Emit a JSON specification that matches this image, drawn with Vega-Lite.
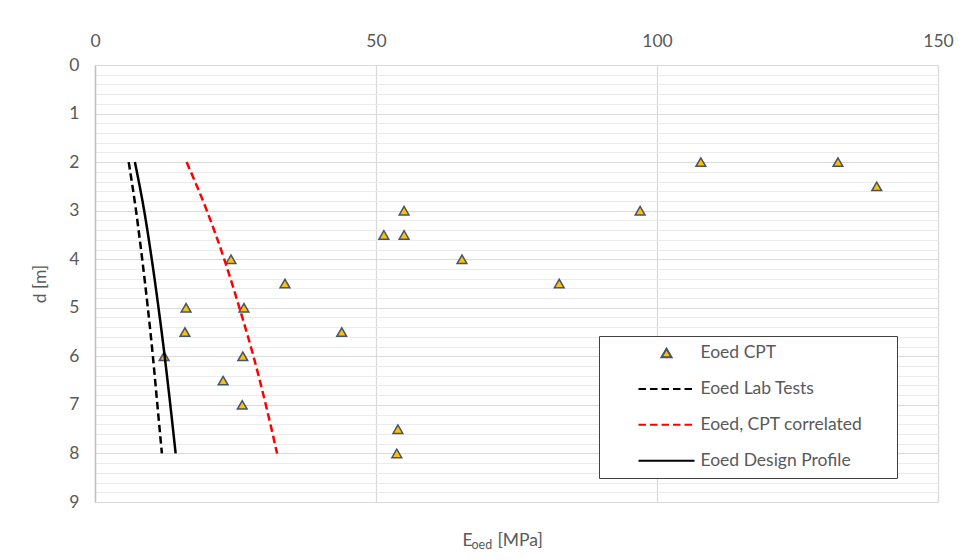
{
  "$schema": "https://vega.github.io/schema/vega-lite/v6.json",
  "width": 843,
  "height": 437,
  "autosize": {"type": "none"},
  "padding": {"left": 95, "top": 65, "right": 38, "bottom": 58},
  "background": "white",
  "datasets": {
    "cpt": [
      {"series": "Eoed CPT", "E": 107.8, "d": 2},
      {"series": "Eoed CPT", "E": 132.2, "d": 2},
      {"series": "Eoed CPT", "E": 139.1, "d": 2.5},
      {"series": "Eoed CPT", "E": 55.0, "d": 3},
      {"series": "Eoed CPT", "E": 97.0, "d": 3},
      {"series": "Eoed CPT", "E": 51.4, "d": 3.5},
      {"series": "Eoed CPT", "E": 55.0, "d": 3.5},
      {"series": "Eoed CPT", "E": 24.2, "d": 4},
      {"series": "Eoed CPT", "E": 65.3, "d": 4},
      {"series": "Eoed CPT", "E": 33.8, "d": 4.5},
      {"series": "Eoed CPT", "E": 82.6, "d": 4.5},
      {"series": "Eoed CPT", "E": 16.2, "d": 5},
      {"series": "Eoed CPT", "E": 26.5, "d": 5},
      {"series": "Eoed CPT", "E": 16.0, "d": 5.5},
      {"series": "Eoed CPT", "E": 43.9, "d": 5.5},
      {"series": "Eoed CPT", "E": 12.3, "d": 6},
      {"series": "Eoed CPT", "E": 26.3, "d": 6},
      {"series": "Eoed CPT", "E": 22.8, "d": 6.5},
      {"series": "Eoed CPT", "E": 26.2, "d": 7},
      {"series": "Eoed CPT", "E": 53.9, "d": 7.5},
      {"series": "Eoed CPT", "E": 53.7, "d": 8}
    ],
    "lines": [
      {"series": "Eoed Lab Tests", "E": 6.0, "d": 2},
      {"series": "Eoed Lab Tests", "E": 7.3, "d": 3},
      {"series": "Eoed Lab Tests", "E": 8.4, "d": 4},
      {"series": "Eoed Lab Tests", "E": 9.4, "d": 5},
      {"series": "Eoed Lab Tests", "E": 10.3, "d": 6},
      {"series": "Eoed Lab Tests", "E": 11.1, "d": 7},
      {"series": "Eoed Lab Tests", "E": 11.9, "d": 8},
      {"series": "Eoed, CPT correlated", "E": 16.3, "d": 2},
      {"series": "Eoed, CPT correlated", "E": 19.9, "d": 3},
      {"series": "Eoed, CPT correlated", "E": 23.0, "d": 4},
      {"series": "Eoed, CPT correlated", "E": 25.7, "d": 5},
      {"series": "Eoed, CPT correlated", "E": 28.2, "d": 6},
      {"series": "Eoed, CPT correlated", "E": 30.4, "d": 7},
      {"series": "Eoed, CPT correlated", "E": 32.4, "d": 8},
      {"series": "Eoed Design Profile", "E": 7.1, "d": 2},
      {"series": "Eoed Design Profile", "E": 8.75, "d": 3},
      {"series": "Eoed Design Profile", "E": 10.1, "d": 4},
      {"series": "Eoed Design Profile", "E": 11.3, "d": 5},
      {"series": "Eoed Design Profile", "E": 12.4, "d": 6},
      {"series": "Eoed Design Profile", "E": 13.4, "d": 7},
      {"series": "Eoed Design Profile", "E": 14.35, "d": 8}
    ]
  },
  "resolve": {"axis": {"x": "independent", "y": "independent"}},
  "layer": [
    {
      "data": {"name": "cpt"},
      "mark": {"type": "point", "filled": true, "opacity": 1, "size": 95, "strokeWidth": 1.5},
      "encoding": {
        "x": {
          "field": "E", "type": "quantitative",
          "scale": {"domain": [0, 150], "nice": false, "zero": true},
          "axis": {
            "orient": "top", "values": [0, 50, 100, 150], "title": null,
            "grid": true, "gridColor": "#D9D9D9", "gridWidth": 1.2,
            "domain": false, "ticks": false, "labelFlush": false,
            "labelPadding": 19, "labelBaseline": "alphabetic"
          }
        },
        "y": {
          "field": "d", "type": "quantitative",
          "scale": {"domain": [0, 9], "nice": false, "reverse": true},
          "axis": {
            "orient": "left", "values": [0, 1, 2, 3, 4, 5, 6, 7, 8, 9],
            "title": "d [m]", "titleX": -55, "titleY": 218.5, "titleAngle": -90,
            "titleAlign": "center", "titleBaseline": "middle",
            "grid": true, "gridColor": "#D9D9D9", "gridWidth": 1.2,
            "domain": true, "domainColor": "#BFBFBF", "domainWidth": 1.5,
            "ticks": false, "labelPadding": 16, "labelFlush": false
          }
        },
        "shape": {
          "field": "series", "type": "nominal",
          "scale": {
            "domain": ["Eoed CPT", "Eoed Lab Tests", "Eoed, CPT correlated", "Eoed Design Profile"],
            "range": ["triangle-up", "M-5.6,0H5.6", "M-5.6,0H5.6", "M-5.6,0H5.6"]
          },
          "legend": {"title": "\u2003"}
        },
        "fill": {
          "field": "series", "type": "nominal",
          "scale": {
            "domain": ["Eoed CPT", "Eoed Lab Tests", "Eoed, CPT correlated", "Eoed Design Profile"],
            "range": ["#FFC000", "#000000", "#FF0000", "#000000"]
          },
          "legend": {"title": "\u2003"}
        },
        "stroke": {
          "field": "series", "type": "nominal",
          "scale": {
            "domain": ["Eoed CPT", "Eoed Lab Tests", "Eoed, CPT correlated", "Eoed Design Profile"],
            "range": ["#44546A", "#000000", "#FF0000", "#000000"]
          },
          "legend": {"title": "\u2003"}
        }
      }
    },
    {
      "data": {"name": "lines"},
      "transform": [{"filter": "datum.series === 'Eoed Lab Tests'"}],
      "mark": {"type": "line", "strokeWidth": 2.5, "interpolate": "monotone"},
      "encoding": {
        "x": {
          "field": "E", "type": "quantitative",
          "axis": {
            "orient": "bottom", "labels": false, "ticks": false, "domain": false, "grid": false,
            "title": "E", "titleX": 367, "titleY": 43, "titleAlign": "left", "titleBaseline": "alphabetic", "titleAnchor": null
          }
        },
        "y": {
          "field": "d", "type": "quantitative",
          "axis": {
            "orient": "left", "title": null, "labels": false, "ticks": false, "domain": false,
            "grid": true, "gridColor": "#EBEBEB", "gridWidth": 1.2,
            "values": [0.2, 0.4, 0.6, 0.8, 1.2, 1.4, 1.6, 1.8, 2.2, 2.4, 2.6, 2.8, 3.2, 3.4, 3.6, 3.8, 4.2, 4.4, 4.6, 4.8, 5.2, 5.4, 5.6, 5.8, 6.2, 6.4, 6.6, 6.8, 7.2, 7.4, 7.6, 7.8, 8.2, 8.4, 8.6, 8.8]
          }
        },
        "order": {"field": "d", "type": "quantitative"},
        "stroke": {"field": "series", "type": "nominal", "legend": {"title": "\u2003"}},
        "strokeDash": {
          "field": "series", "type": "nominal",
          "scale": {
            "domain": ["Eoed CPT", "Eoed Lab Tests", "Eoed, CPT correlated", "Eoed Design Profile"],
            "range": [[1, 0], [7.5, 4], [7.5, 4], [1, 0]]
          },
          "legend": {"title": "\u2003"}
        }
      }
    },
    {
      "data": {"name": "lines"},
      "transform": [{"filter": "datum.series === 'Eoed, CPT correlated'"}],
      "mark": {"type": "line", "strokeWidth": 2.5, "interpolate": "monotone"},
      "encoding": {
        "x": {
          "field": "E", "type": "quantitative",
          "axis": {
            "orient": "bottom", "labels": false, "ticks": false, "domain": false, "grid": false,
            "title": "oed", "titleX": 376, "titleY": 46, "titleAlign": "left", "titleBaseline": "alphabetic", "titleAnchor": null, "titleFontSize": 12.5
          }
        },
        "y": {"field": "d", "type": "quantitative", "axis": null},
        "order": {"field": "d", "type": "quantitative"},
        "stroke": {"field": "series", "type": "nominal", "legend": {"title": "\u2003"}},
        "strokeDash": {"field": "series", "type": "nominal", "legend": {"title": "\u2003"}}
      }
    },
    {
      "data": {"name": "lines"},
      "transform": [{"filter": "datum.series === 'Eoed Design Profile'"}],
      "mark": {"type": "line", "strokeWidth": 2.5, "interpolate": "monotone"},
      "encoding": {
        "x": {
          "field": "E", "type": "quantitative",
          "axis": {
            "orient": "bottom", "labels": false, "ticks": false, "domain": false, "grid": false,
            "title": "[MPa]", "titleX": 402, "titleY": 43, "titleAlign": "left", "titleBaseline": "alphabetic", "titleAnchor": null
          }
        },
        "y": {"field": "d", "type": "quantitative", "axis": null},
        "order": {"field": "d", "type": "quantitative"},
        "stroke": {"field": "series", "type": "nominal", "legend": {"title": "\u2003"}},
        "strokeDash": {"field": "series", "type": "nominal", "legend": {"title": "\u2003"}}
      }
    }
  ],
  "config": {
    "view": {"stroke": null},
    "font": "Lato",
    "axis": {
      "labelFont": "Lato", "labelFontSize": 17.5, "labelColor": "#595959",
      "titleFont": "Lato", "titleFontSize": 17.5, "titleColor": "#595959", "titleFontWeight": "normal"
    },
    "legend": {
      "orient": "none", "legendX": 504, "legendY": 271,
      "padding": 8.25, "rowPadding": 16.9,
      "symbolOffset": 50.5, "labelOffset": 25.25,
      "labelFont": "Lato", "labelFontSize": 17.5, "labelColor": "#595959", "labelLimit": 400,
      "titleOrient": "right", "titlePadding": 26, "titleFontSize": 17.5, "titleFont": "Lato",
      "symbolSize": 100, "symbolStrokeWidth": 2,
      "fillColor": "white", "strokeColor": "#404040", "cornerRadius": 0
    }
  }
}
